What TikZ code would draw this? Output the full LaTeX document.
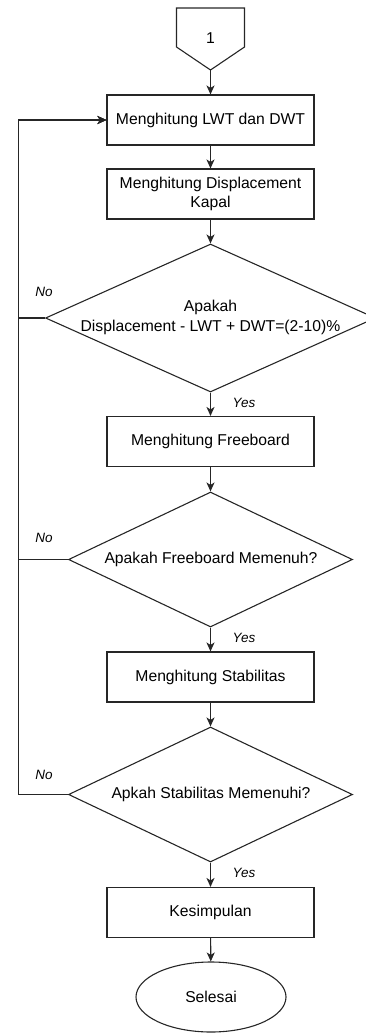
\documentclass[tikz,border=0pt]{standalone}
\usepackage{fontspec}
\setmainfont{Liberation Sans}
\usetikzlibrary{shapes.geometric,arrows.meta}
\begin{document}
\begin{tikzpicture}[x=1pt,y=-1pt,
  ink/.style={draw=black!85,line width=1.1pt},
  proc/.style={ink,rectangle,minimum width=207pt,minimum height=50pt,inner sep=0pt,
    font=\fontsize{15.7}{19}\selectfont,align=center},
  dec/.style={ink,diamond,inner sep=0pt},
  dtext/.style={font=\fontsize{15.7}{20}\selectfont,align=center,inner sep=0pt},
  term/.style={ink,ellipse,minimum width=150pt,minimum height=70pt,inner sep=0pt,
    font=\fontsize{15.7}{19}\selectfont},
  lbl/.style={font=\fontsize{13.5}{16}\selectfont\itshape,inner sep=0pt},
  flow/.style={ink,-{Stealth[length=9pt,width=8pt,inset=2.5pt]}}]
\clip (0,0) rectangle (366,1034);

% off-page connector
\draw[ink] (176.5,8) -- (244.5,8) -- (244.5,47) -- (210.5,70) -- (176.5,47) -- cycle;
\coordinate (c1tip) at (210.5,70);
\node[font=\fontsize{15.7}{19}\selectfont] (c1) at (210.5,38) {1};

% process boxes, decisions and terminator
\node[proc] (b1) at (210.5,120) {Menghitung LWT dan DWT};
\node[proc] (b2) at (210.5,194) {Menghitung Displacement\\Kapal};
\node[dec,minimum width=330pt,minimum height=148pt] (d1) at (210.5,318) {};
\node[dtext] (t1) at (210.5,317) {Apakah\\Displacement - LWT + DWT=(2-10)\%};
\node[proc] (b3) at (210.5,441.5) {Menghitung Freeboard};
\node[dec,minimum width=284pt,minimum height=135pt] (d2) at (210.5,559.5) {};
\node[dtext] (t2) at (211,559) {Apakah Freeboard Memenuh?};
\node[proc] (b4) at (210.5,677) {Menghitung Stabilitas};
\node[dec,minimum width=284pt,minimum height=135pt] (d3) at (210.5,794.5) {};
\node[dtext] (t3) at (211,794) {Apkah Stabilitas Memenuhi?};
\node[proc] (b5) at (210.5,912.5) {Kesimpulan};
\node[term] (end) at (211,997) {Selesai};

% main flow
\draw[flow] (c1tip) -- (b1);
\draw[flow] (b1) -- (b2);
\draw[flow] (b2) -- (d1);
\draw[flow] (d1) -- (b3);
\draw[flow] (b3) -- (d2);
\draw[flow] (d2) -- (b4);
\draw[flow] (b4) -- (d3);
\draw[flow] (d3) -- (b5);
\draw[flow] (b5) -- (end);

% loop-back branches
\coordinate (lx) at (18.3,0);
\draw[flow] (d1.west) -- (d1.west -| lx) |- (b1.west);
\draw[flow] (d2.west) -- (d2.west -| lx) |- (b1.west);
\draw[flow] (d3.west) -- (d3.west -| lx) |- (b1.west);

% branch labels
\node[lbl] (no1) at (44,292) {No};
\node[lbl] (no2) at (44,538) {No};
\node[lbl] (no3) at (44,775) {No};
\node[lbl] (yes1) at (244,403) {Yes};
\node[lbl] (yes2) at (244,638) {Yes};
\node[lbl] (yes3) at (244,873) {Yes};
\end{tikzpicture}
\end{document}
